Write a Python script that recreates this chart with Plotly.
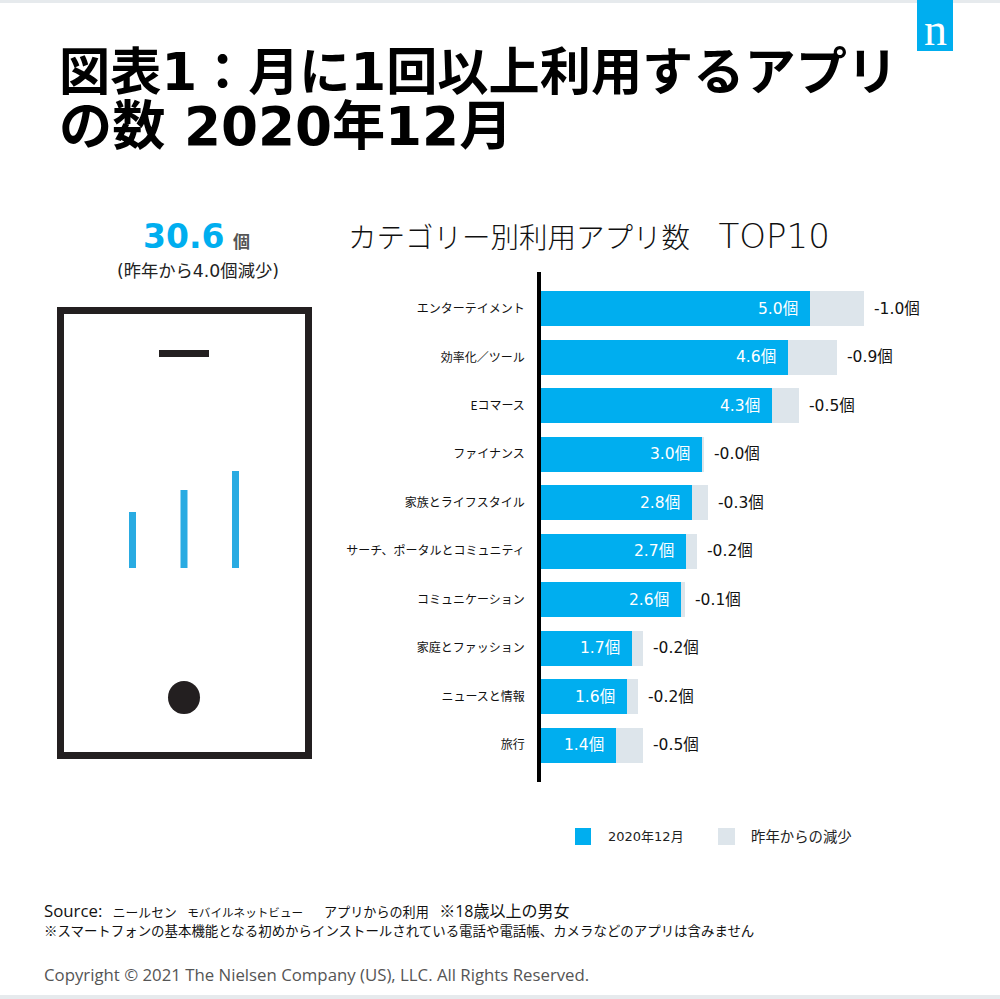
import plotly.graph_objects as go

categories = ["エンターテイメント", "効率化／ツール", "Eコマース", "ファイナンス", "家族とライフスタイル",
              "サーチ、ポータルとコミュニティ", "コミュニケーション", "家庭とファッション", "ニュースと情報", "旅行"]
current = [5.0, 4.6, 4.3, 3.0, 2.8, 2.7, 2.6, 1.7, 1.6, 1.4]
decline = [1.0, 0.9, 0.5, 0.03, 0.3, 0.2, 0.07, 0.2, 0.2, 0.5]
series_names = ["2020年12月", "昨年からの減少"]

BLUE = "#00aeef"
GRAY = "#dde5eb"
JP = "Noto Sans CJK JP"
MIX = "DejaVu Sans, Noto Sans CJK JP"
W, H = 1000, 999


def px(x):
    return x / W


def py(y):
    return 1 - y / H


fig = go.Figure()
fig.add_bar(y=categories, x=current, orientation="h", name=series_names[0],
            marker=dict(color=BLUE, line_width=0), hoverinfo="x+y")
fig.add_bar(y=categories, x=decline, orientation="h", name=series_names[1],
            marker=dict(color=GRAY, line_width=0), hoverinfo="x+y")

shapes = []


def rect(x0, y0, x1, y1, fill, line=None, lw=0, kind="rect"):
    shapes.append(dict(type=kind, xref="paper", yref="paper", x0=px(x0), x1=px(x1), y0=py(y0), y1=py(y1),
                       fillcolor=fill, line=dict(color=line or fill, width=lw), layer="above"))


rect(0, 0, W, 3, "#e6eaed")
rect(0, 995, W, H, "#e6eaed")
rect(917, 0, 953, 51, BLUE)
rect(60.5, 310.5, 308.5, 755.5, "rgba(0,0,0,0)", "#231f20", 7)
rect(159, 350, 209, 357, "#231f20")
rect(129, 512, 136, 568, "#29abe2")
rect(180.5, 490, 187.5, 568, "#29abe2")
rect(232, 471, 239, 568, "#29abe2")
rect(168, 681, 200, 714, "#231f20", kind="circle")
rect(575, 828, 591, 845, BLUE)
rect(718, 828, 735, 845, GRAY)

ann = []


def text(x, y, s, size, color="#000000", family=MIX, anchor="left", weight=None):
    f = dict(size=size, color=color, family=family)
    if weight:
        f["weight"] = weight
    ann.append(dict(xref="paper", yref="paper", x=px(x), y=py(y), text=s, showarrow=False, xanchor=anchor,
                    yanchor="middle", font=f, borderpad=0, borderwidth=0))


def sized(s, size):
    return f'<span style="font-size:{size}px">{s}</span>'


NB = "\u00a0"
text(59, 72, "図表1：月に1回以上利用するアプリ", 51.2, weight=700)
text(59, 127, "の数 2020年12月", 53.2, weight=700)
text(143, 236, "30.6", 33, BLUE, weight=700)
text(233, 240, "個", 17, "#555555", JP, weight=700)
text(198, 271, "(昨年から4.0個減少)", 17.3, "#222222", anchor="center")
text(348, 236, "カテゴリー別利用アプリ数\u3000" + sized("TOP10", 34), 28.5, "#111111", MIX, weight=300)
text(608, 836, series_names[0], 13, "#222222")
text(751, 835, series_names[1], 14.4, "#222222", JP)
text(44, 910, sized("Source:", 16.8) + NB * 3 + sized("ニールセン", 12.8) + NB * 3 + sized("モバイルネットビュー", 11.6) + NB * 6
     + sized("アプリからの利用", 13.1) + NB * 3 + sized("※18歳以上の男女", 16),
     13.4, "#111111", "Open Sans, Noto Sans CJK JP")
text(44, 930, "※スマートフォンの基本機能となる初めからインストールされている電話や電話帳、カメラなどのアプリは含みません", 13.45, "#111111", JP)
text(44, 974, "Copyright © 2021 The Nielsen Company (US), LLC. All Rights Reserved.", 16.8, "#555555", "Open Sans")
text(935.5, 29, "n", 46, "#ffffff", "Liberation Serif", anchor="center")

for cat, cur, dec in zip(categories, current, decline):
    ann.append(dict(x=cur, y=cat, xref="x", yref="y", text=f"{cur:.1f}個", showarrow=False, xanchor="right",
                    xshift=-10, font=dict(size=15.5, color="#ffffff", family=MIX)))
    ann.append(dict(x=cur + dec, y=cat, xref="x", yref="y", text=f"-{dec:.1f}個", showarrow=False, xanchor="left",
                    xshift=8, font=dict(size=15.5, color="#111111", family=MIX)))

fig.update_layout(
    width=W, height=H, margin=dict(l=0, r=0, t=0, b=0), barmode="stack", bargap=0.28,
    paper_bgcolor="#ffffff", plot_bgcolor="#ffffff", showlegend=False,
    shapes=shapes, annotations=ann,
    xaxis=dict(domain=[px(541), px(960)], range=[0, 419 / 53.8], visible=False),
    yaxis=dict(domain=[py(782), py(272)], range=[9.76, -0.76], showline=True, linecolor="#000000", linewidth=3.5,
               showgrid=False, zeroline=False, ticks="", ticklabelstandoff=10,
               tickfont=dict(size=12, color="#111111", family=JP)),
    font=dict(family=JP),
)
fig.write_html("out.html", config={"displayModeBar": False},
               post_script="document.body.style.margin='0';")
